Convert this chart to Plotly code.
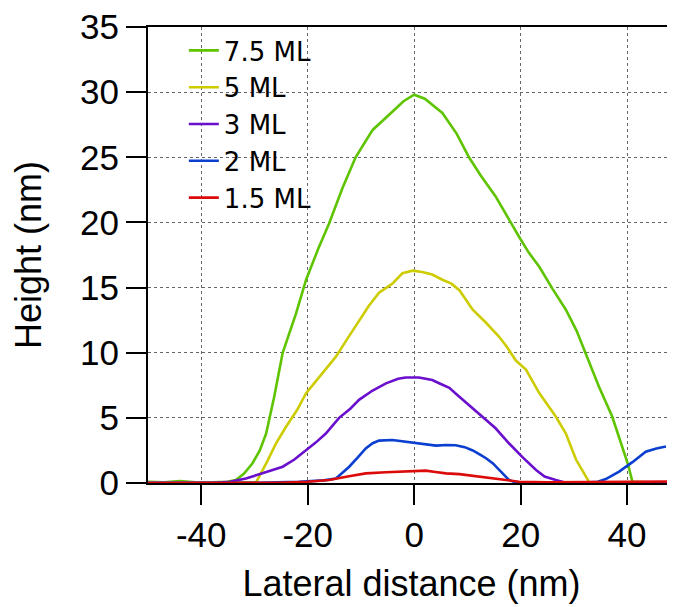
import plotly.graph_objects as go

# ---- data ----
green_x = [-50, -47, -44, -41, -38, -35.1, -33.5, -32, -30.4, -29, -27.8, -26.3, -24.7, -22.2, -20.3, -18, -16, -13.5, -11, -7.8, -4.1, -2, 0, 2, 5.3, 8, 10.3, 12.5, 15.3, 17.5, 19.7, 21.5, 23.5, 26, 28.5, 30.5, 32.2, 34.7, 37.2, 39.1, 40.2, 41, 44, 48]
green_y = [0.1, 0.05, 0.15, 0.05, 0.05, 0.1, 0.23, 0.7, 1.5, 2.5, 3.8, 6.6, 10.0, 13.0, 15.6, 18.0, 19.9, 22.6, 25.0, 27.1, 28.5, 29.3, 29.8, 29.5, 28.4, 26.8, 25.0, 23.6, 22.0, 20.4, 18.9, 17.7, 16.6, 14.9, 13.3, 11.7, 10.0, 7.4, 5.1, 2.8, 1.4, 0.1, 0.05, 0.05]

yellow_x = [-50, -40, -31, -29.7, -27.8, -26, -24.1, -22, -20.3, -17.5, -14.7, -12.5, -10.3, -8.5, -6.6, -4.1, -2.2, -0.3, 1.5, 3.4, 5.3, 7, 8.5, 11, 13.5, 16, 17.5, 19.1, 21, 23.5, 26.6, 28.5, 30.4, 32.9, 40, 48]
yellow_y = [0.05, 0.05, 0.03, 0.05, 1.5, 3.0, 4.3, 5.6, 6.9, 8.3, 9.7, 11.1, 12.5, 13.6, 14.6, 15.3, 16.1, 16.3, 16.2, 16.0, 15.6, 15.3, 14.8, 13.3, 12.3, 11.2, 10.4, 9.4, 8.7, 6.9, 5.1, 3.8, 1.8, 0.05, 0.05, 0.05]

purple_x = [-50, -42, -37, -34.6, -31.6, -28.5, -24.7, -22.5, -20.3, -18.5, -16.6, -14.1, -12, -10.3, -7.8, -5.3, -3, -1.6, 0.9, 3.4, 5, 6.6, 8, 9.7, 12.2, 15.3, 17.8, 20.3, 22.9, 24.5, 26.6, 28.5, 48]
purple_y = [0.02, 0.02, 0.03, 0.1, 0.35, 0.74, 1.25, 1.8, 2.5, 3.1, 3.8, 5.0, 5.7, 6.4, 7.1, 7.65, 8.0, 8.1, 8.1, 7.9, 7.6, 7.3, 6.8, 6.2, 5.35, 4.2, 3.05, 2.0, 1.0, 0.5, 0.23, 0.02, 0.02]

blue_x = [-50, -30, -21.6, -17, -14.7, -13.5, -12.2, -10.5, -9.1, -7.8, -6.6, -4.1, -2, -0.3, 2, 4.1, 6, 7.8, 9.5, 11, 12.3, 13.5, 14.8, 16, 17.8, 19, 25, 33, 34.5, 36, 38.5, 41, 43.5, 45.5, 47.3]
blue_y = [0.0, 0.02, 0.1, 0.2, 0.35, 0.75, 1.25, 2.0, 2.66, 3.05, 3.25, 3.3, 3.2, 3.1, 3.0, 2.87, 2.92, 2.9, 2.75, 2.5, 2.2, 1.9, 1.5, 1.0, 0.23, 0.05, 0.02, 0.05, 0.1, 0.3, 0.87, 1.6, 2.4, 2.65, 2.8]

red_x = [-50, -36, -25.4, -20, -16, -12.5, -9.1, -5.3, -2, 0.5, 2.2, 4, 6, 8.5, 11, 13, 15.3, 17.5, 19.7, 25, 35, 49]
red_y = [0.0, 0.0, 0.02, 0.1, 0.23, 0.5, 0.74, 0.82, 0.87, 0.87, 0.95, 0.85, 0.74, 0.68, 0.56, 0.45, 0.36, 0.22, 0.1, 0.05, 0.08, 0.12]

series = [
    ("7.5 ML", green_x, green_y, "#5ec400"),
    ("5 ML", yellow_x, yellow_y, "#cccc00"),
    ("3 ML", purple_x, purple_y, "#6a0fcc"),
    ("2 ML", blue_x, blue_y, "#0a3fd0"),
    ("1.5 ML", red_x, red_y, "#dd0a0a"),
]

x_ticks = [-40, -20, 0, 20, 40]
y_ticks = [0, 5, 10, 15, 20, 25, 30, 35]

fig = go.Figure()
for name, xs, ys, col in series:
    fig.add_trace(go.Scatter(x=xs, y=ys, mode="lines", name=name,
                             line=dict(color=col, width=2.6)))

tick_font = dict(family="Liberation Sans", size=35, color="black")
title_font = dict(family="Liberation Sans", size=36, color="black")

# page body has an 8px default margin, so the figure is 8px smaller than the window
fig.update_layout(
    width=667, height=599, autosize=False,
    margin=dict(l=140, r=0, t=19, b=124),
    paper_bgcolor="white", plot_bgcolor="white",
    showlegend=True,
    legend=dict(x=0.068, y=1.0, xanchor="left", yanchor="top",
                bgcolor="rgba(255,255,255,0)",
                font=dict(family="DejaVu Sans", size=26, color="black"),
                tracegroupgap=0, itemwidth=30),
    xaxis=dict(range=[-50, 49], tickvals=x_ticks, ticktext=[str(v) for v in x_ticks],
               ticks="outside", ticklen=20, tickwidth=2, tickcolor="black",
               showline=True, linecolor="black", linewidth=2, mirror=True,
               showgrid=True, gridcolor="#666666", gridwidth=1, griddash="dot",
               zeroline=False, tickfont=tick_font, automargin=False,
               ticklabeloverflow="allow",
               title=dict(text="Lateral distance (nm)", font=title_font, standoff=18)),
    yaxis=dict(range=[0, 35], tickvals=y_ticks, ticktext=[str(v) for v in y_ticks],
               ticks="outside", ticklen=20, tickwidth=2, tickcolor="black",
               showline=True, linecolor="black", linewidth=2,
               showgrid=True, gridcolor="#666666", gridwidth=1, griddash="dot",
               zeroline=False, tickfont=tick_font, automargin=False,
               ticklabeloverflow="allow",
               title=dict(text="Height (nm)", font=title_font, standoff=27)),
)

fig.write_html("out.html")
